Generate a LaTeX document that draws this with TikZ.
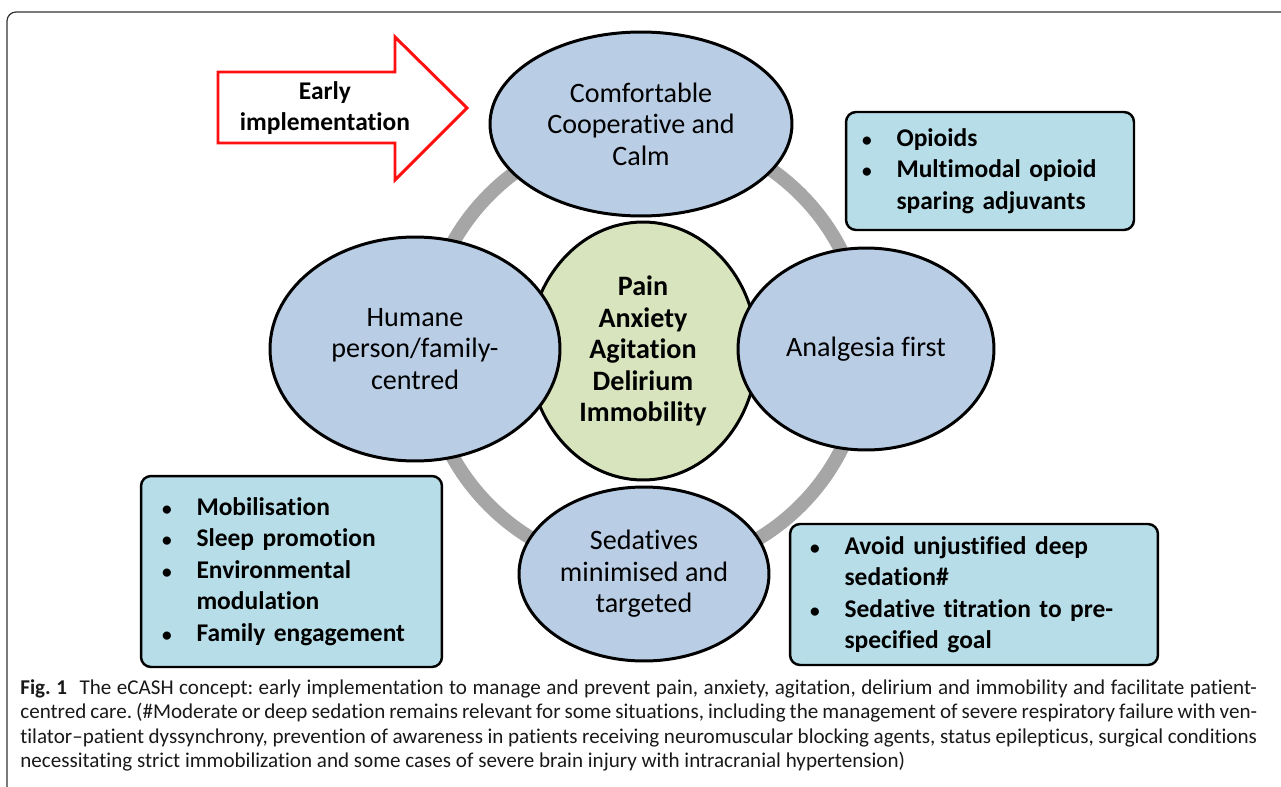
\documentclass[tikz,border=0pt]{standalone}
\usepackage{fontspec}
\setmainfont{Carlito}[Ligatures={TeX,NoCommon}]
\usetikzlibrary{shapes.geometric}

\definecolor{ovalblau}{HTML}{B9CDE5}
\definecolor{kerngruen}{HTML}{D7E4BD}
\definecolor{kastenblau}{HTML}{B7DEE8}
\definecolor{ringgrau}{HTML}{A6A6A6}
\definecolor{pfeilrot}{HTML}{FF1010}

\newcommand{\punkt}{{\fontsize{11}{11}\selectfont\textbullet}}
\newcommand{\bul}[1]{\mbox{\makebox[0.69cm][l]{\punkt}#1}}
\newcommand{\weiter}[1]{\mbox{\hspace*{0.69cm}#1}}

\begin{document}
\begin{tikzpicture}[x=0.02cm, y=-0.02cm,
  oval/.style={ellipse, draw=black, line width=1.7pt, fill=ovalblau, align=center, inner sep=0pt, font=\fontsize{16}{17.9}\selectfont},
  kasten/.style={draw=black, line width=1.4pt, rounded corners=0.2cm, fill=kastenblau, align=left, font=\bfseries\fontsize{14.5}{17.9}\selectfont}]
\useasboundingbox (0,0) rectangle (1281,787);

% Rahmen
\draw[black!80, line width=0.7pt, rounded corners=0.18cm] (7,787) -- (7,12) -- (1281,12);

% Ring
\draw[ringgrau, line width=0.28cm] (645,350) circle [radius=220];

% Pfeil
\draw[pfeilrot, line width=1.7pt, fill=white, line join=miter] (218,72) -- (395,72) -- (395,37) -- (467,108) -- (395,180) -- (395,143) -- (218,143) -- cycle;
\node[font=\bfseries\fontsize{14.5}{17.6}\selectfont, align=center] (frueh) at (325,108) {Early\\implementation};

% Kern
\node[oval, fill=kerngruen, minimum width=4.56cm, minimum height=5.16cm, font=\bfseries\fontsize{16}{17.9}\selectfont] (kern) at (643,351) {Pain\\Anxiety\\Agitation\\Delirium\\Immobility};

% Ovale
\node[oval, minimum width=6.04cm, minimum height=3.68cm] (komfort) at (641,124) {Comfortable\\Cooperative and\\Calm};
\node[oval, minimum width=5.8cm, minimum height=4.48cm] (human) at (415,349) {Humane\\person/family-\\centred};
\node[oval, minimum width=5.12cm, minimum height=4.04cm] (analg) at (866,349) {Analgesia first};
\node[oval, minimum width=5.0cm, minimum height=3.48cm] (sedat) at (644,574) {Sedatives\\minimised and\\targeted};

% Kaesten
\node[kasten, text width=5.12cm, inner xsep=0.32cm, minimum height=2.36cm] (opioid) at (990,171)
  {\bul{Opioids}\\\bul{Multimodal opioid}\\\weiter{sparing adjuvants}};
\node[kasten, text width=5.18cm, inner xsep=0.42cm, minimum height=3.82cm] (mobil) at (291.5,571.5)
  {\bul{Mobilisation}\\\bul{Sleep promotion}\\\bul{Environmental}\\\weiter{modulation}\\\bul{Family engagement}};
\node[kasten, text width=6.56cm, inner xsep=0.4cm, minimum height=2.82cm] (tief) at (974,594.5)
  {\bul{Avoid unjustified deep}\\\weiter{sedation\#}\\\bul{Sedative titration to pre-}\\\weiter{specified goal}};

% Legende
\node[anchor=north west, text width=24.74cm, align=justify, inner sep=0pt, text=black!90, font=\frenchspacing\fontsize{12}{14}\selectfont] (legende) at (20,679)
  {\textbf{Fig.\ 1}\hspace{0.6em}The eCASH concept: early implementation to manage and prevent pain, anxiety, agitation, delirium and immobility and facilitate patient-\linebreak centred care. (\#Moderate or deep sedation remains relevant for some situations, including the management of severe respiratory failure with ven-\linebreak tilator–patient dyssynchrony, prevention of awareness in patients receiving neuromuscular blocking agents, status epilepticus, surgical conditions\linebreak necessitating strict immobilization and some cases of severe brain injury with intracranial hypertension)};
\end{tikzpicture}
\end{document}
